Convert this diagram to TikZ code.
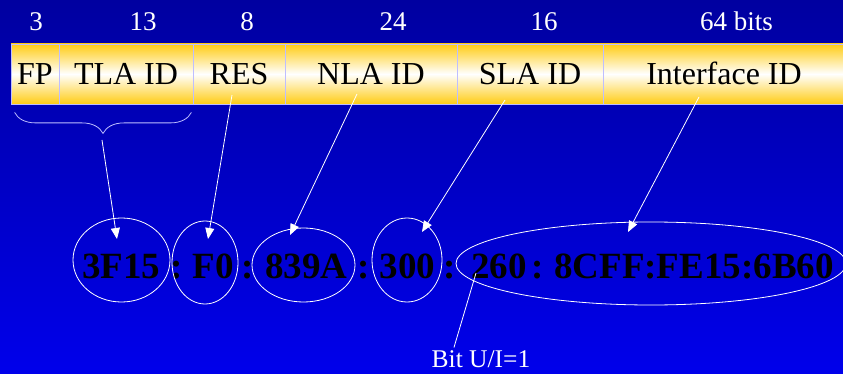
\documentclass[tikz,border=0pt]{standalone}
\usepackage{fontspec}
\setmainfont{Liberation Serif}
\usetikzlibrary{arrows.meta, calc, shapes.geometric, decorations.pathreplacing}
\definecolor{bgTop}{RGB}{0,0,160}
\definecolor{bgBottom}{RGB}{0,0,235}
\definecolor{fieldGold}{RGB}{255,204,20}
\definecolor{fieldLine}{RGB}{190,190,255}
\tikzset{
  field/.style={draw=fieldLine, line width=0.8pt, top color=fieldGold, bottom color=fieldGold, middle color=white,
    minimum height=60pt, text height=21pt, text depth=0pt, inner sep=0pt, font=\fontsize{32}{36}\selectfont},
  bitcount/.style={white, anchor=base, font=\fontsize{27}{30}\selectfont},
  hexpart/.style={anchor=base west, inner sep=0pt, font=\bfseries\fontsize{37}{40}\selectfont},
  sep/.style={anchor=base, inner sep=0pt, font=\bfseries\fontsize{37}{40}\selectfont},
  part/.style={ellipse, draw=white, line width=0.8pt, inner sep=0pt},
  pointer/.style={white, line width=0.8pt, -{Triangle[length=11pt, width=9pt]}}
}

\begin{document}
\begin{tikzpicture}[x=1pt, y=-1pt]
  \useasboundingbox (0,0) rectangle (843,374);
  \clip (0,0) rectangle (843,374);
  \shade [top color=bgTop, bottom color=bgBottom] (0,0) rectangle (843,374);

  % the fields of the address
  \node [field, minimum width=48pt] (fp) at (35,74) {FP};
  \node [field, minimum width=134pt] (tla) at (126,74) {TLA ID};
  \node [field, minimum width=92pt] (res) at (239,74) {RES};
  \node [field, minimum width=172pt] (nla) at (371,74) {NLA ID};
  \node [field, minimum width=146pt] (sla) at (530,74) {SLA ID};
  \node [field, minimum width=242pt] (iid) at (724,74) {Interface ID};

  % bit counts
  \node [bitcount] (w3) at (36,31) {3};
  \node [bitcount] (w13) at (143,31) {13};
  \node [bitcount] (w8) at (247,31) {8};
  \node [bitcount] (w24) at (393,31) {24};
  \node [bitcount] (w16) at (544,31) {16};
  \node [bitcount] (w64) at (736.5,31) {64 bits};

  % brace under FP and TLA ID
  \draw [fieldLine, line width=0.8pt, decorate, decoration={brace, mirror, amplitude=21pt}]
    ($(fp.south west)+(4,8)$) -- ($(tla.south east)+(-2,8)$);
  \coordinate (tip) at (102,140);

  % the address itself
  \node [hexpart] (h1) at (82,278.5) {3F15};
  \node [sep] (s1) at (176.5,278.5) {:};
  \node [hexpart] (h2) at (192.5,278.5) {F0};
  \node [sep] (s2) at (248,278.5) {:};
  \node [hexpart] (h3) at (265,278.5) {839A};
  \node [sep] (s3) at (364,278.5) {:};
  \node [hexpart] (h4) at (379.5,278.5) {300};
  \node [sep] (s4) at (450,278.5) {:};
  \node [hexpart] (h5) at (471,278.5) {260};
  \node [sep] (s5) at (538,278.5) {:};
  \node [hexpart] (h6) at (554,278.5) {8CFF:FE15:6B60};

  % rings round the parts
  \node [part, minimum width=97pt, minimum height=84pt] (e1) at (121.5,260) {};
  \node [part, minimum width=66pt, minimum height=83pt] (e2) at (205,262.5) {};
  \node [part, minimum width=103pt, minimum height=74pt] (e3) at (303.5,265) {};
  \node [part, minimum width=70pt, minimum height=84pt] (e4) at (407,260) {};
  \node [part, minimum width=390pt, minimum height=83pt] (e5) at (651,263.5) {};

  % pointers
  \draw [pointer] (tip) -- ($(e1.center)+(-4.5,-21)$);
  \draw [pointer] ($(res.center)+(-7,21)$) -- ($(e2.center)+(3,-23.5)$);
  \draw [pointer] ($(nla.center)+(-14,20)$) -- ($(e3.center)+(-13.5,-30)$);
  \draw [pointer] ($(sla.center)+(-25,26)$) -- ($(e4.center)+(15,-28)$);
  \draw [pointer] ($(iid.center)+(-25,23)$) -- ($(e5.center)+(-23,-31.5)$);

  % U/L bit
  \node [white, anchor=base, inner sep=0pt, font=\fontsize{25.5}{28}\selectfont] (ubit) at (481,367.5) {Bit U/I=1};
  \coordinate (ul) at (476,273);
  \draw [white, line width=0.8pt] ($(ubit.base west)+(22.5,-20)$) -- (ul);
\end{tikzpicture}
\end{document}
